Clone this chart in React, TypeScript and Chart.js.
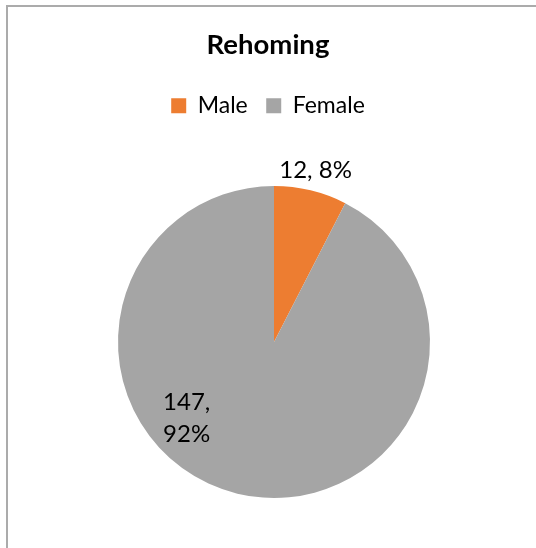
import React, { useEffect, useRef } from "react";
import { Chart, registerables, layouts } from "chart.js";

Chart.register(...registerables);

const chartTitle = "Rehoming";
const categories = ["Male", "Female"];
const values = [12, 147];
const colors = ["#ED7D31", "#A5A5A5"];

const FONT = "Lato, 'Noto Sans', sans-serif";

// Empty layout boxes that reserve space so the pie sits where the original placed it
function makeSpacer(position: "left" | "top", size: number) {
  return {
    position,
    weight: 0,
    fullSize: false,
    options: { stackWeight: 1 },
    width: 0,
    height: 0,
    left: 0,
    top: 0,
    right: 0,
    bottom: 0,
    isHorizontal() {
      return position === "top";
    },
    update(maxWidth: number, maxHeight: number) {
      if (position === "top") {
        this.width = maxWidth;
        this.height = size;
      } else {
        this.width = size;
        this.height = maxHeight;
      }
    },
    getPadding() {
      return { left: 0, right: 0, top: 0, bottom: 0 };
    },
    draw() {},
  };
}

const spacerPlugin = {
  id: "spacers",
  beforeInit(chart: any) {
    layouts.addBox(chart, makeSpacer("left", 12) as any);
    layouts.addBox(chart, makeSpacer("top", 8.8) as any);
  },
};

const labelPlugin = {
  id: "pieLabels",
  afterDatasetsDraw(chart: any) {
    const meta = chart.getDatasetMeta(0);
    const total = values.reduce((a, b) => a + b, 0);
    const ctx = chart.ctx;
    ctx.save();
    ctx.font = `24px ${FONT}`;
    ctx.fillStyle = "#000";
    ctx.textBaseline = "middle";
    meta.data.forEach((arc: any, i: number) => {
      const { x, y, startAngle, endAngle, outerRadius } = arc.getProps(
        ["x", "y", "startAngle", "endAngle", "outerRadius"],
        true
      );
      const pct = Math.round((values[i] / total) * 100);
      const mid = (startAngle + endAngle) / 2;
      if (i === 0) {
        const r = outerRadius + 21;
        ctx.textAlign = "center";
        ctx.fillText(`${values[i]}, ${pct}%`, x + Math.cos(mid) * r, y + Math.sin(mid) * r);
      } else {
        const a = mid + (35.7 * Math.PI) / 180;
        const r = outerRadius * 0.748;
        const cx = x + Math.cos(a) * r;
        const cy = y + Math.sin(a) * r;
        ctx.textAlign = "left";
        ctx.fillText(`${values[i]},`, cx - 22.5, cy - 16);
        ctx.fillText(`${pct}%`, cx - 22.5, cy + 16);
      }
    });
    ctx.restore();
  },
};

export default function App() {
  const ref = useRef<HTMLCanvasElement | null>(null);
  useEffect(() => {
    if (!ref.current) return;
    const chart = new Chart(ref.current, {
      type: "pie",
      data: {
        labels: categories,
        datasets: [
          {
            data: values,
            backgroundColor: colors,
            borderWidth: 0,
            radius: 156,
          } as any,
        ],
      },
      options: {
        responsive: false,
        animation: false,
        layout: { padding: { top: 28.7, left: 0, right: 0, bottom: 0 } },
        plugins: {
          title: {
            display: true,
            text: chartTitle,
            color: "#000",
            font: { family: FONT, size: 27.5, weight: "bold" },
            padding: { top: 0.3, bottom: 13.7 },
          },
          legend: {
            position: "top",
            labels: {
              boxWidth: 15,
              boxHeight: 15,
              color: "#000",
              font: { family: FONT, size: 23 },
              padding: 18.5,
            },
          },
          tooltip: { enabled: false },
        },
      },
      plugins: [spacerPlugin, labelPlugin],
    });
    return () => chart.destroy();
  }, []);
  return (
    <div
      style={{
        position: "fixed",
        left: 0,
        top: 0,
        width: 536,
        height: 548,
        overflow: "hidden",
        background: "#fff",
      }}
    >
      <div
        style={{
          position: "absolute",
          left: 6,
          top: 5,
          width: 700,
          height: 700,
          border: "2px solid #ababab",
        }}
      />
      <canvas
        ref={ref}
        width={536}
        height={548}
        style={{ position: "absolute", left: 0, top: 0, width: 536, height: 548 }}
      />
    </div>
  );
}
